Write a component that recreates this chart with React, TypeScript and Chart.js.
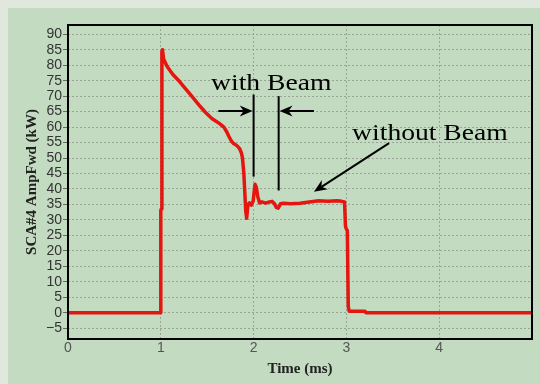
import React, { useEffect, useRef } from 'react';
import { Chart, registerables } from 'chart.js';

Chart.register(...registerables);

// ---- data ----
const timeMs = [
  0, 1.0, 1.0, 1.005, 1.012, 1.018, 1.03, 1.07, 1.13, 1.2, 1.27, 1.34, 1.41, 1.48, 1.55, 1.63,
  1.68, 1.71, 1.73, 1.76, 1.78, 1.82, 1.85, 1.87, 1.88, 1.895, 1.905, 1.915, 1.925, 1.94, 1.955,
  1.975, 1.995, 2.015, 2.03, 2.045, 2.065, 2.09, 2.13, 2.17, 2.2, 2.225, 2.245, 2.265, 2.29, 2.32,
  2.4, 2.5, 2.6, 2.7, 2.8, 2.9, 2.95, 2.98, 2.99, 3.0, 3.01, 3.02, 3.03, 3.2, 3.21, 5.0,
];
const ampFwdKw = [
  0, 0, 33, 33.5, 84.5, 85, 82, 79.5, 77, 74.8, 72.3, 69.8, 67.2, 64.8, 62.8, 61.2,
  60, 58.5, 57.2, 55.5, 54.8, 54, 53, 51.5, 50, 45, 39, 33, 30.5, 35, 35.5,
  34.8, 36, 41.5, 40.5, 37.5, 35.5, 35.8, 35.4, 35.8, 36, 35.2, 34, 33.8, 35.2, 35.4,
  35.2, 35.4, 35.8, 36.2, 36, 36.2, 36, 35.8, 28, 27, 26.5, 2, 0.5, 0.5, 0, 0,
];
const xTickValues = [0, 1, 2, 3, 4];
const yTickValues = [-5, 0, 5, 10, 15, 20, 25, 30, 35, 40, 45, 50, 55, 60, 65, 70, 75, 80, 85, 90];
const xRange = [0, 5];
const yRange = [-8.5, 93];
const xTitle = 'Time (ms)';
const yTitle = 'SCA#4 AmpFwd (kW)';

// annotations, in data units (ms, kW)
const withBeamLabel = { text: 'with Beam', x: 2.19, y: 72.0 };
const withoutBeamLabel = { text: 'without Beam', x: 3.9, y: 55.8 };
const beamMarkers = [
  { x: 2.0, y1: 70.5, y2: 44 },
  { x: 2.27, y1: 70, y2: 39.5 },
];
const beamArrows = [
  { x1: 1.62, y1: 65.2, x2: 1.99, y2: 65.2 },
  { x1: 2.65, y1: 65.2, x2: 2.28, y2: 65.2 },
  { x1: 3.46, y1: 54.8, x2: 2.65, y2: 39.1 },
];

function drawArrow(ctx: CanvasRenderingContext2D, x1: number, y1: number, x2: number, y2: number) {
  const ang = Math.atan2(y2 - y1, x2 - x1);
  const L = 13, W = 5.5, N = 9;
  ctx.beginPath();
  ctx.moveTo(x1, y1);
  ctx.lineTo(x2 - Math.cos(ang) * N, y2 - Math.sin(ang) * N);
  ctx.stroke();
  ctx.save();
  ctx.translate(x2, y2);
  ctx.rotate(ang);
  ctx.beginPath();
  ctx.moveTo(0, 0);
  ctx.lineTo(-L, -W);
  ctx.lineTo(-N, 0);
  ctx.lineTo(-L, W);
  ctx.closePath();
  ctx.fill();
  ctx.restore();
}

const notesPlugin = {
  id: 'beamNotes',
  afterDraw(chart: any) {
    const { ctx, chartArea } = chart;
    const xs = chart.scales.x;
    const ys = chart.scales.y;
    ctx.save();
    // plot frame
    ctx.strokeStyle = '#000';
    ctx.lineWidth = 2;
    ctx.strokeRect(chartArea.left, chartArea.top, chartArea.right - chartArea.left, chartArea.bottom - chartArea.top);

    ctx.fillStyle = '#000';
    ctx.strokeStyle = '#000';
    ctx.lineWidth = 2;
    for (const m of beamMarkers) {
      const px = xs.getPixelForValue(m.x);
      ctx.beginPath();
      ctx.moveTo(px, ys.getPixelForValue(m.y1));
      ctx.lineTo(px, ys.getPixelForValue(m.y2));
      ctx.stroke();
    }
    for (const a of beamArrows) {
      drawArrow(
        ctx,
        xs.getPixelForValue(a.x1), ys.getPixelForValue(a.y1),
        xs.getPixelForValue(a.x2), ys.getPixelForValue(a.y2),
      );
    }
    ctx.font = '24px "Liberation Serif", "Times New Roman", serif';
    ctx.textAlign = 'center';
    ctx.textBaseline = 'alphabetic';
    for (const l of [withBeamLabel, withoutBeamLabel]) {
      ctx.save();
      ctx.translate(xs.getPixelForValue(l.x), ys.getPixelForValue(l.y));
      ctx.scale(1.15, 1);
      ctx.fillText(l.text, 0, 0);
      ctx.restore();
    }
    ctx.restore();
  },
};

export default function App() {
  const canvasRef = useRef<HTMLCanvasElement | null>(null);

  useEffect(() => {
    document.body.style.margin = '0';
    document.body.style.overflow = 'hidden';
    document.documentElement.style.overflow = 'hidden';
    const canvas = canvasRef.current;
    if (!canvas) return;
    const points = timeMs.map((t, i) => ({ x: t, y: ampFwdKw[i] }));
    const gridColor = '#97a496';
    const chart = new Chart(canvas, {
      type: 'line',
      data: {
        datasets: [
          {
            data: points,
            borderColor: '#e5150f',
            borderWidth: 3.5,
            pointRadius: 0,
            tension: 0,
            fill: false,
            borderJoinStyle: 'round',
          },
        ],
      },
      options: {
        responsive: false,
        animation: false,
        devicePixelRatio: 1,
        layout: { padding: { top: 17, right: 8, left: 0, bottom: 0 } },
        plugins: { legend: { display: false }, tooltip: { enabled: false } },
        scales: {
          x: {
            type: 'linear',
            min: xRange[0],
            max: xRange[1],
            afterBuildTicks: (scale: any) => {
              scale.ticks = xTickValues.map((v) => ({ value: v }));
            },
            afterFit: (scale: any) => {
              scale.height = 45;
            },
            grid: { color: gridColor, lineWidth: 1, drawTicks: false },
            border: { display: false, dash: [2, 2] },
            ticks: {
              autoSkip: false,
              padding: 1,
              color: '#555',
              font: { family: '"Liberation Sans", Arial, sans-serif', size: 14 },
              maxRotation: 0,
            },
            title: {
              display: true,
              text: xTitle,
              color: '#222',
              font: { family: '"Liberation Serif", "Times New Roman", serif', size: 15, weight: 'bold' },
              padding: { top: 0, bottom: 6 },
            },
          },
          y: {
            type: 'linear',
            min: yRange[0],
            max: yRange[1],
            afterBuildTicks: (scale: any) => {
              scale.ticks = yTickValues.map((v) => ({ value: v }));
            },
            afterFit: (scale: any) => {
              scale.width = 60;
            },
            grid: {
              color: gridColor,
              lineWidth: 1,
              drawTicks: true,
              tickLength: 5,
              tickColor: '#6a6a6a',
              tickBorderDash: [],
            },
            border: { display: false, dash: [2, 2] },
            ticks: {
              autoSkip: false,
              padding: 1,
              color: '#333',
              font: { family: '"Liberation Sans", Arial, sans-serif', size: 14 },
              callback: (v: any) => (Number(v) < 0 ? '\u2212' + Math.abs(Number(v)) : String(v)),
            },
            title: {
              display: true,
              text: yTitle,
              color: '#222',
              font: { family: '"Liberation Serif", "Times New Roman", serif', size: 15, weight: 'bold' },
              padding: { top: 15, bottom: 0 },
            },
          },
        },
      },
      plugins: [notesPlugin],
    });
    return () => chart.destroy();
  }, []);

  return (
    <div style={{ position: 'relative', width: 540, height: 384, background: '#e0e7dd', overflow: 'hidden' }}>
      <div style={{ position: 'absolute', left: 8, top: 8, width: 532, height: 376, background: '#c3dcc1' }}>
        <canvas ref={canvasRef} width={532} height={376} style={{ display: 'block' }} />
      </div>
    </div>
  );
}
